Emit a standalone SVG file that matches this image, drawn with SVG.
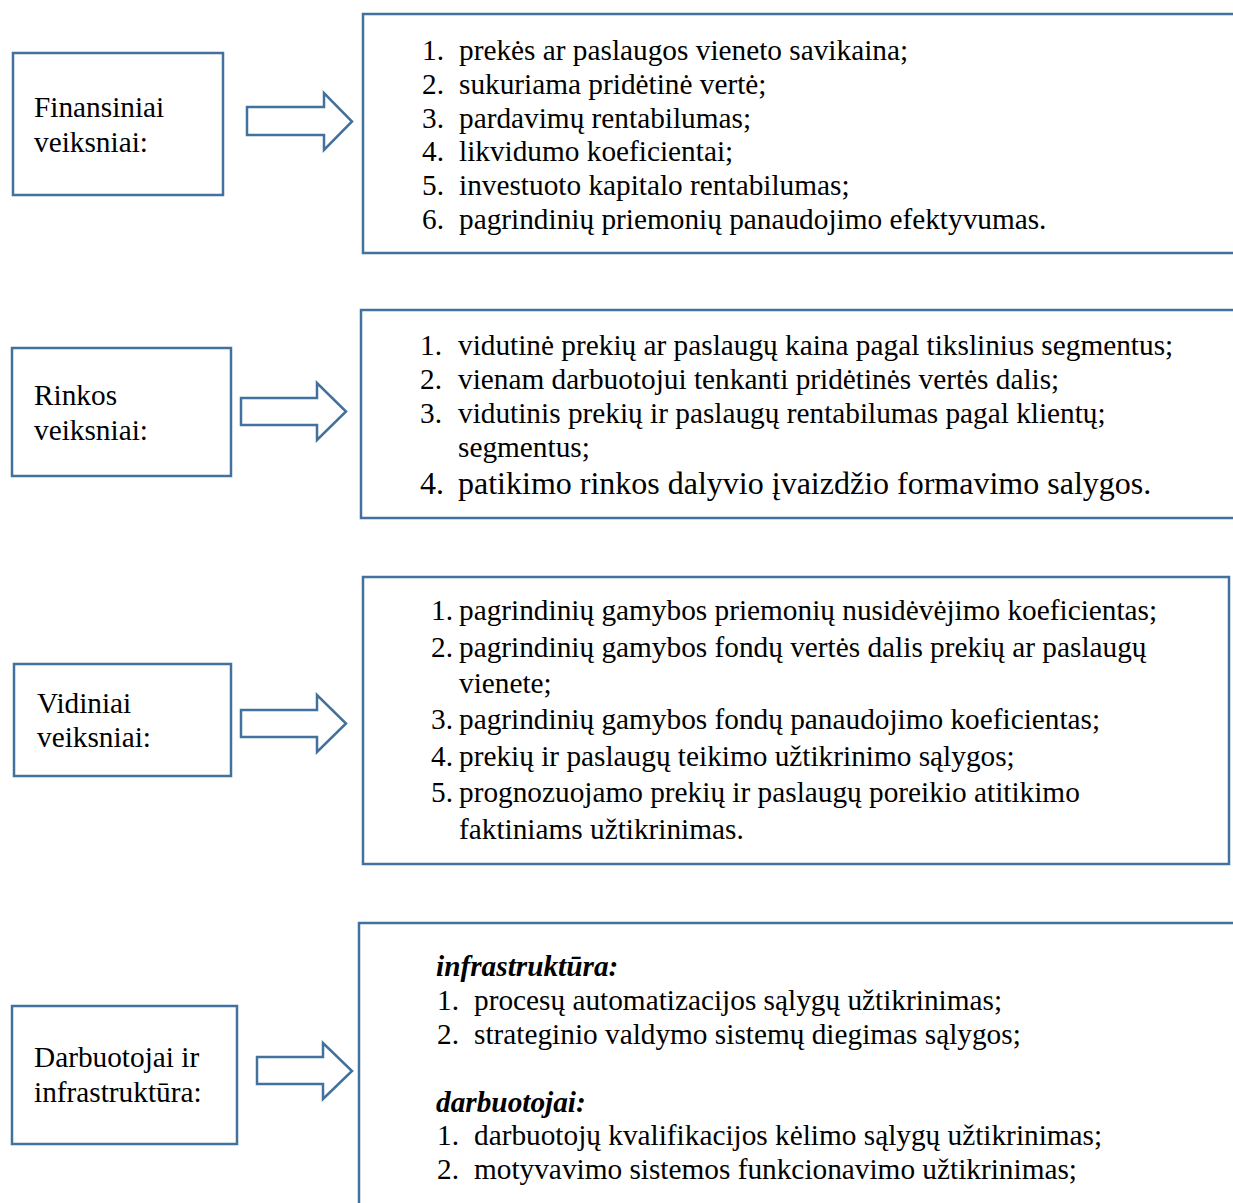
<svg xmlns="http://www.w3.org/2000/svg" width="1233" height="1203" viewBox="0 0 1233 1203">
<style>
.box{fill:#fff;stroke:#41719C;stroke-width:2.5}
.arr{fill:#fff;stroke:#41719C;stroke-width:2.5;stroke-linejoin:miter}
text{font-family:"Liberation Serif","Times New Roman",serif;font-size:29.3px;fill:#000}
.big{font-size:32px}
.hd{font-weight:bold;font-style:italic}
</style>
<rect width="1233" height="1203" fill="#fff"/>
<g id="fin-label">
<rect class="box" x="13" y="53" width="210" height="142"/>
<text x="34" y="117">Finansiniai</text>
<text x="34" y="152">veiksniai:</text>
</g>
<g id="fin-list">
<rect class="box" x="363" y="14" width="900" height="239"/>
<text x="422" y="59.5">1.</text><text x="459" y="59.5">prekės ar paslaugos vieneto savikaina;</text>
<text x="422" y="93.5">2.</text><text x="459" y="93.5">sukuriama pridėtinė vertė;</text>
<text x="422" y="127.5">3.</text><text x="459" y="127.5">pardavimų rentabilumas;</text>
<text x="422" y="161">4.</text><text x="459" y="161">likvidumo koeficientai;</text>
<text x="422" y="195">5.</text><text x="459" y="195">investuoto kapitalo rentabilumas;</text>
<text x="422" y="229">6.</text><text x="459" y="229">pagrindinių priemonių panaudojimo efektyvumas.</text>
</g>
<g id="rin-label">
<rect class="box" x="12" y="348" width="219" height="128"/>
<text x="34" y="405">Rinkos</text>
<text x="34" y="440">veiksniai:</text>
</g>
<g id="rin-list">
<rect class="box" x="361" y="310" width="900" height="208"/>
<text x="420" y="355">1.</text><text x="458" y="355">vidutinė prekių ar paslaugų kaina pagal tikslinius segmentus;</text>
<text x="420" y="389">2.</text><text x="458" y="389">vienam darbuotojui tenkanti pridėtinės vertės dalis;</text>
<text x="420" y="423">3.</text><text x="458" y="423">vidutinis prekių ir paslaugų rentabilumas pagal klientų;</text>
<text x="458" y="457">segmentus;</text>
<text class="big" x="420" y="494">4.</text><text class="big" x="458" y="494">patikimo rinkos dalyvio įvaizdžio formavimo salygos.</text>
</g>
<g id="vid-label">
<rect class="box" x="14" y="664" width="217" height="112"/>
<text x="37" y="713">Vidiniai</text>
<text x="37" y="747">veiksniai:</text>
</g>
<g id="vid-list">
<rect class="box" x="363" y="577" width="866" height="287"/>
<text x="431" y="620">1.</text><text x="459" y="620">pagrindinių gamybos priemonių nusidėvėjimo koeficientas;</text>
<text x="431" y="657">2.</text><text x="459" y="657">pagrindinių gamybos fondų vertės dalis prekių ar paslaugų</text>
<text x="459" y="693">vienete;</text>
<text x="431" y="729">3.</text><text x="459" y="729">pagrindinių gamybos fondų panaudojimo koeficientas;</text>
<text x="431" y="766">4.</text><text x="459" y="766">prekių ir paslaugų teikimo užtikrinimo sąlygos;</text>
<text x="431" y="802">5.</text><text x="459" y="802">prognozuojamo prekių ir paslaugų poreikio atitikimo</text>
<text x="459" y="839">faktiniams užtikrinimas.</text>
</g>
<g id="dar-label">
<rect class="box" x="12" y="1006" width="225" height="138"/>
<text x="34" y="1067">Darbuotojai ir</text>
<text x="34" y="1102">infrastruktūra:</text>
</g>
<g id="dar-list">
<rect class="box" x="359" y="923" width="900" height="320"/>
<text class="hd" x="436" y="976">infrastruktūra:</text>
<text x="437" y="1010">1.</text><text x="474" y="1010">procesų automatizacijos sąlygų užtikrinimas;</text>
<text x="437" y="1044">2.</text><text x="474" y="1044">strateginio valdymo sistemų diegimas sąlygos;</text>
<text class="hd" x="436" y="1112">darbuotojai:</text>
<text x="437" y="1145">1.</text><text x="474" y="1145">darbuotojų kvalifikacijos kėlimo sąlygų užtikrinimas;</text>
<text x="437" y="1179">2.</text><text x="474" y="1179">motyvavimo sistemos funkcionavimo užtikrinimas;</text>
</g>
<g id="connectors">
<polygon class="arr" points="247,107 324,107 324,93 352,121.5 324,150 324,135 247,135"/>
<polygon class="arr" points="241,398 317,398 317,383 346,411.5 317,440 317,425 241,425"/>
<polygon class="arr" points="241,710 317,710 317,695 346,723.5 317,752 317,737 241,737"/>
<polygon class="arr" points="257,1057 323,1057 323,1043 352,1071 323,1099 323,1084 257,1084"/>
</g>
</svg>
